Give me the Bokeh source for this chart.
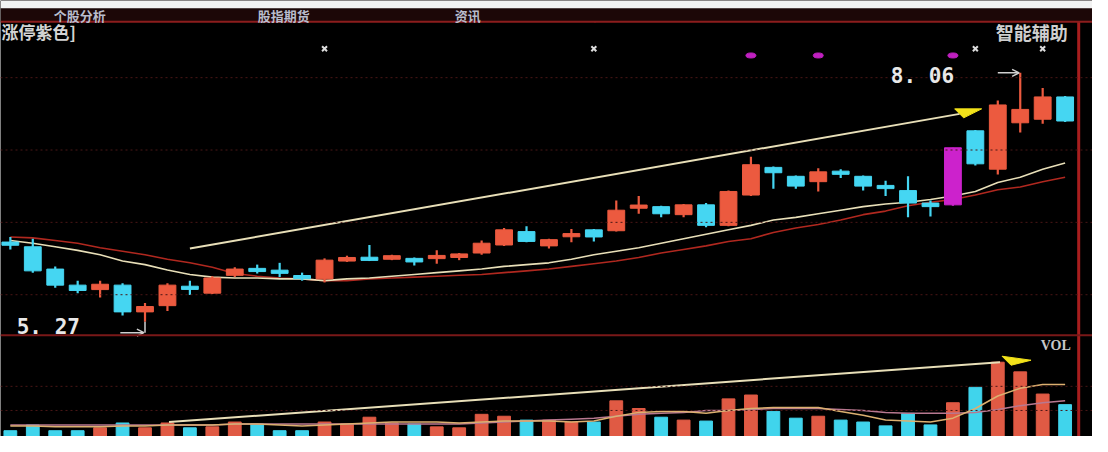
from bokeh.plotting import figure
from bokeh.models import Range1d, Span, BoxAnnotation, Label, Arrow, OpenHead
from bokeh.embed import file_html
from bokeh.resources import INLINE

# ---------------- data ----------------
opens = [6.15, 6.11, 5.86, 5.68, 5.63, 5.68, 5.38, 5.45, 5.66, 5.59,
         5.79, 5.86, 5.84, 5.78, 5.75, 5.95, 5.99, 5.97, 5.98, 5.98,
         5.99, 6.04, 6.13, 6.28, 6.12, 6.23, 6.30, 6.29, 6.55, 6.56,
         6.47, 6.58, 6.35, 6.69, 7.00, 6.90, 6.84, 6.95, 6.90, 6.79,
         6.74, 6.60, 6.58, 7.41, 6.98, 7.50, 7.54, 7.79]
highs = [6.22, 6.20, 5.89, 5.73, 5.73, 5.70, 5.48, 5.70, 5.73, 5.78,
         5.88, 5.91, 5.93, 5.82, 5.98, 6.01, 6.13, 6.02, 5.99, 6.07,
         6.04, 6.18, 6.32, 6.34, 6.20, 6.31, 6.31, 6.63, 6.68, 6.57,
         6.59, 6.60, 6.74, 7.12, 7.01, 6.91, 6.99, 6.98, 6.91, 6.85,
         6.90, 6.63, 7.22, 7.42, 7.75, 8.06, 7.89, 7.80]
lows = [6.08, 5.82, 5.65, 5.59, 5.54, 5.34, 5.27, 5.39, 5.57, 5.58,
        5.77, 5.81, 5.77, 5.73, 5.71, 5.94, 5.95, 5.96, 5.90, 5.92,
        5.96, 6.02, 6.12, 6.16, 6.09, 6.16, 6.17, 6.28, 6.48, 6.44,
        6.44, 6.33, 6.34, 6.68, 6.76, 6.76, 6.73, 6.88, 6.74, 6.68,
        6.44, 6.45, 6.57, 7.02, 6.92, 7.39, 7.49, 7.51]
closes = [6.14, 5.84, 5.68, 5.62, 5.69, 5.38, 5.44, 5.68, 5.64, 5.76,
          5.86, 5.84, 5.82, 5.76, 5.96, 5.99, 5.96, 6.01, 5.94, 6.01,
          6.03, 6.15, 6.30, 6.17, 6.19, 6.25, 6.22, 6.52, 6.57, 6.48,
          6.58, 6.35, 6.73, 7.03, 6.94, 6.79, 6.95, 6.93, 6.79, 6.77,
          6.60, 6.56, 7.22, 7.04, 7.70, 7.65, 7.79, 7.52]
limit_up_days = [42]

ma_fast = [6.18, 6.15, 6.11, 6.07, 6.02, 5.95, 5.91, 5.85, 5.80, 5.77,
           5.76, 5.76, 5.75, 5.75, 5.73, 5.75, 5.76, 5.78, 5.80, 5.82,
           5.84, 5.86, 5.89, 5.91, 5.93, 5.97, 6.02, 6.06, 6.10, 6.15,
           6.20, 6.25, 6.30, 6.35, 6.41, 6.44, 6.48, 6.52, 6.56, 6.59,
           6.61, 6.64, 6.68, 6.73, 6.83, 6.89, 6.98, 7.05]
ma_slow = [6.22, 6.21, 6.18, 6.15, 6.10, 6.06, 6.02, 5.97, 5.93, 5.88,
           5.81, 5.78, 5.76, 5.75, 5.73, 5.73, 5.75, 5.76, 5.77, 5.78,
           5.79, 5.80, 5.82, 5.84, 5.86, 5.89, 5.92, 5.95, 5.99, 6.04,
           6.08, 6.12, 6.17, 6.20, 6.27, 6.32, 6.36, 6.41, 6.47, 6.51,
           6.57, 6.61, 6.64, 6.69, 6.75, 6.78, 6.84, 6.89]

volumes = [12000, 24000, 12000, 12000, 18000, 28000, 18000, 28000, 18000, 20000,
           30000, 26000, 12000, 12000, 30000, 26000, 40000, 28000, 26000, 20000,
           18000, 46000, 42000, 34000, 34000, 30000, 30000, 74000, 58000, 40000,
           34000, 32000, 78000, 86000, 52000, 38000, 42000, 34000, 30000, 22000,
           48000, 24000, 70000, 102000, 154000, 134000, 88000, 66000]
vol_up = [0, 0, 0, 0, 1, 0, 1, 1, 0, 1,
          1, 0, 0, 0, 1, 1, 1, 1, 0, 1,
          1, 1, 1, 0, 1, 1, 0, 1, 1, 0,
          1, 0, 1, 1, 0, 0, 1, 0, 0, 0,
          0, 0, 1, 0, 1, 1, 1, 0]
vol_ma5 = [22000, 22000, 20000, 20000, 20000, 22000, 22000, 24000, 24000, 24000,
           26000, 26000, 24000, 22000, 24000, 26000, 28000, 30000, 30000, 30000,
           28000, 30000, 32000, 32000, 32000, 30000, 32000, 42000, 50000, 52000,
           52000, 48000, 54000, 58000, 60000, 60000, 60000, 52000, 44000, 34000,
           32000, 30000, 38000, 58000, 84000, 100000, 108000, 108000]
vol_ma10 = [24000, 24000, 24000, 24000, 24000, 24000, 24000, 24000, 24000, 24000,
            26000, 26000, 26000, 26000, 26000, 26000, 26000, 26000, 26000, 26000,
            26000, 28000, 30000, 32000, 34000, 36000, 38000, 42000, 46000, 48000,
            50000, 54000, 54000, 56000, 58000, 58000, 58000, 56000, 54000, 50000,
            48000, 48000, 48000, 50000, 56000, 64000, 70000, 74000]

trend_idx = [8.0, 42.3]
trend_price = [6.09, 7.60]
vol_trend_idx = [7.07, 44.1]
vol_trend_val = [30000, 154000]

signal_cross_days = [14, 26, 43, 46]
signal_dot_days = [33, 36, 42]

tab_labels = ["个股分析", "股指期货", "资讯"]
title_left = "涨停紫色]"
title_right = "智能辅助"
vol_title = "VOL"

# ---------------- layout ----------------
W, H = 1092, 436
RW, RH = 1108.0, 452.0            # reference frame the decorations are laid out in
X0, X1 = -0.439, 48.22
Y0, Y1 = 3.983, 8.871
VOL_TOP = 904000.0

def fx(X):
    return X0 + X / RW * (X1 - X0)

def fy(Y):
    return Y1 - Y / RH * (Y1 - Y0)

def sx(X):
    return X * W / RW

def sy(Y):
    return (RH - Y) * H / RH

px_x = W / (X1 - X0)
px_y = H / (Y1 - Y0)
px_v = H / VOL_TOP

RED = "#ec5a3f"
CYAN = "#45d6f2"
MAGENTA = "#cc22cc"
VRED = "#e05a44"
VCYAN = "#40d4ec"
CREAM = "#e8dfb8"
MARED = "#b0281f"
GRIDC = "#4a1616"
BORDER = "#8c1d1d"

p = figure(width=W, height=H, x_range=Range1d(X0, X1), y_range=Range1d(Y0, Y1),
           output_backend="svg", toolbar_location=None,
           x_axis_location=None, y_axis_location=None,
           min_border=0, background_fill_color="#000000",
           border_fill_color="#000000", outline_line_color=None)
p.xgrid.visible = False
p.ygrid.visible = False
p.extra_y_ranges = {"vol": Range1d(0, VOL_TOP)}

n = len(opens)
idx = list(range(n))

# dotted grid lines
for g in [fy(80), fy(155), fy(230), fy(305)]:
    p.add_layout(Span(location=g, dimension="width", line_color=GRIDC,
                      line_dash="2 3", line_width=1))
for g in [54000, 104000]:
    p.add_layout(Span(location=g, dimension="width", line_color=GRIDC,
                      line_dash="2 3", line_width=1, y_range_name="vol"))

# ---- volume pane ----
vcolors = [VRED if u else VCYAN for u in vol_up]
p.vbar(x=idx, width=0.57, top=volumes, bottom=0, fill_color=vcolors,
       line_color=vcolors, y_range_name="vol")
p.line(idx, vol_ma10, line_color="#b87890", line_width=1.5, y_range_name="vol")
p.line(idx, vol_ma5, line_color="#dcb070", line_width=1.5, y_range_name="vol")
p.line(vol_trend_idx, vol_trend_val, line_color=CREAM, line_width=2, y_range_name="vol")
ex, ev = vol_trend_idx[1], vol_trend_val[1]
p.patch([ex + d / px_x for d in (2, 31, 11)],
        [ev + d / px_v for d in (6, 2, -3)],
        fill_color="#f2e21a", line_color="#f2e21a", y_range_name="vol")

# ---- price pane ----
p.line(idx, ma_slow, line_color=MARED, line_width=1.6)
p.line(idx, ma_fast, line_color=CREAM, line_width=1.6)
p.line(trend_idx, trend_price, line_color=CREAM, line_width=2)
tx, ty = trend_idx[1], trend_price[1]
p.patch([tx + d / px_x for d in (-5, 22, 4)],
        [ty + d / px_y for d in (5, 5, -4)],
        fill_color="#f2e21a", line_color="#f2e21a")

colors = []
tops, bots = [], []
minb = 3.2 / px_y
for i in idx:
    if i in limit_up_days:
        colors.append(MAGENTA)
    elif closes[i] >= opens[i]:
        colors.append(RED)
    else:
        colors.append(CYAN)
    t, b = max(opens[i], closes[i]), min(opens[i], closes[i])
    if t - b < minb:
        m = (t + b) / 2
        t, b = m + minb / 2, m - minb / 2
    tops.append(t)
    bots.append(b)

p.segment(x0=idx, y0=highs, x1=idx, y1=lows, line_color=colors, line_width=2.2)
p.vbar(x=idx, width=0.75, top=tops, bottom=bots, fill_color=colors, line_color=colors)

# signals row
p.scatter(signal_cross_days, [fy(50)] * len(signal_cross_days),
          marker="x", size=7, line_color="#dcdcdc", line_width=2)
p.ellipse(signal_dot_days, [fy(57)] * len(signal_dot_days),
          width=10, height=5, width_units="screen", height_units="screen",
          fill_color="#c020c0", line_color="#c020c0")

# high / low markers
hi_i = max(idx, key=lambda i: highs[i])
lo_i = min(idx, key=lambda i: lows[i])
hi, lo = highs[hi_i], lows[lo_i]
p.add_layout(Arrow(end=OpenHead(size=7, line_color="#d0d0d0", line_width=1.5),
                   x_start=hi_i - 1.0, y_start=hi, x_end=hi_i - 0.05, y_end=hi,
                   line_color="#d0d0d0", line_width=1.5))
lo_y = lo - 11 / px_y
p.segment(x0=[lo_i], y0=[lo], x1=[lo_i], y1=[lo_y], line_color="#d0d0d0", line_width=1.5)
p.add_layout(Arrow(end=OpenHead(size=7, line_color="#d0d0d0", line_width=1.5),
                   x_start=lo_i - 1.1, y_start=lo_y, x_end=lo_i - 0.05, y_end=lo_y,
                   line_color="#d0d0d0", line_width=1.5))
p.add_layout(Label(x=hi_i - 2.95, y=hi - 3 / px_y, text=f"{hi:.2f}".replace(".", ". "),
                   text_align="right", text_baseline="middle",
                   text_font="DejaVu Sans Mono", text_font_style="bold",
                   text_font_size="21px", text_color="#e8e8e8"))
p.add_layout(Label(x=lo_i - 2.9, y=lo - 5 / px_y, text=f"{lo:.2f}".replace(".", ". "),
                   text_align="right", text_baseline="middle",
                   text_font="DejaVu Sans Mono", text_font_style="bold",
                   text_font_size="21px", text_color="#e8e8e8"))

# borders / chrome
p.add_layout(Span(location=fy(347), dimension="width", line_color="#7a1818", line_width=2))
p.segment(x0=[fx(1094)], y0=[fy(22)], x1=[fx(1094)], y1=[fy(470)],
          line_color="#a81e1e", line_width=3)
p.add_layout(BoxAnnotation(bottom=fy(22), fill_color="#1c0707", fill_alpha=1.0,
                           line_alpha=0))
p.add_layout(Span(location=fy(22), dimension="width", line_color=BORDER, line_width=2))
for X in [20, 229, 437]:
    p.segment(x0=[fx(X - 5)], y0=[fy(10)], x1=[fx(X + 3)], y1=[fy(22)],
              line_color="#8a2020", line_width=2)
p.segment(x0=[fx(574)], y0=[fy(8)], x1=[fx(604)], y1=[fy(22)],
          line_color="#8a2020", line_width=2)
p.add_layout(BoxAnnotation(bottom=fy(8), fill_color="#f2f2f2", fill_alpha=1.0,
                           line_alpha=0))

# texts
for lab, X in zip(tab_labels, [54, 261, 461]):
    p.add_layout(Label(x=sx(X), y=sy(15.5), x_units="screen", y_units="screen",
                       text=lab, text_baseline="middle", text_align="left",
                       text_font="Noto Sans CJK SC", text_font_style="bold",
                       text_font_size="13px", text_color="#b8bccc"))
p.add_layout(Label(x=1, y=sy(32), x_units="screen", y_units="screen",
                   text=title_left, text_baseline="middle", text_align="left",
                   text_font="Noto Sans CJK SC", text_font_style="bold",
                   text_font_size="17px", text_color="#d4d4d4"))
p.add_layout(Label(x=sx(1083), y=sy(33), x_units="screen", y_units="screen",
                   text=title_right, text_baseline="middle", text_align="right",
                   text_font="Noto Sans CJK SC", text_font_style="bold",
                   text_font_size="18px", text_color="#cfcfcf"))
p.add_layout(Label(x=sx(1086), y=sy(358), x_units="screen", y_units="screen",
                   text=vol_title, text_baseline="middle", text_align="right",
                   text_font="Liberation Serif", text_font_style="bold",
                   text_font_size="14px", text_color="#c8c8c8"))

open("out.html", "w").write(file_html(p, INLINE))
